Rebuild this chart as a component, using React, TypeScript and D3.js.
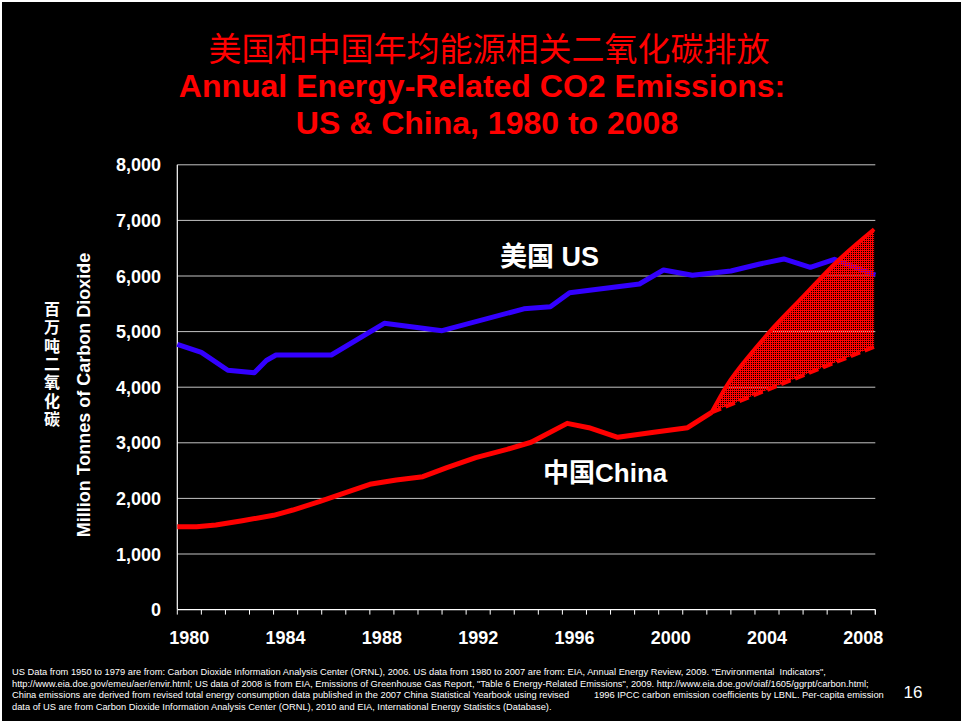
import React from "react";
import * as d3 from "d3";

// ---- Data ----
const usYears = [1980, 1981, 1982.1, 1983.2, 1983.7, 1984.1, 1986.4, 1988.6, 1991.0, 1994.4, 1995.5, 1996.3, 1999.2, 2000.2, 2001.4, 2003.0, 2004.2, 2005.2, 2006.3, 2007.3, 2009.0];
const usValues = [4771, 4627, 4304, 4261, 4480, 4579, 4579, 5149, 5016, 5410, 5448, 5700, 5856, 6108, 6012, 6090, 6216, 6306, 6157, 6300, 6018];

const chinaYears = [1980, 1980.8, 1981.6, 1982.7, 1984.0, 1984.8, 1985.9, 1986.9, 1988.0, 1989.1, 1990.2, 1991.2, 1992.4, 1993.7, 1994.7, 1996.2, 1997.1, 1998.3, 1999.8, 2001.2, 2002.2];
const chinaValues = [1490, 1491, 1522, 1599, 1696, 1791, 1941, 2092, 2254, 2331, 2390, 2552, 2732, 2883, 3010, 3350, 3272, 3099, 3189, 3272, 3549];

const chinaHighYears = [2002.2, 2002.8, 2003.9, 2004.8, 2006.0, 2007.4, 2008.95];
const chinaHighValues = [3549, 4009, 4638, 5088, 5628, 6257, 6840];

const chinaLowYears = [2002.2, 2008.95];
const chinaLowValues = [3549, 4728];

const yTicks = [0, 1000, 2000, 3000, 4000, 5000, 6000, 7000, 8000];
const xTickYears = d3.range(1980, 2010);
const xLabelYears = [1980, 1984, 1988, 1992, 1996, 2000, 2004, 2008];

const titleCn = "美国和中国年均能源相关二氧化碳排放";
const titleEn1 = "Annual Energy-Related CO2 Emissions:";
const titleEn2 = "US & China, 1980 to 2008";
const yTitleEn = "Million Tonnes of Carbon Dioxide";
const yTitleCn = "百万吨二氧化碳";
const usLabel = "美国 US";
const chinaLabel = "中国China";
const footerLines = [
  "US Data from 1950 to 1979 are from: Carbon Dioxide Information Analysis Center (ORNL), 2006. US data from 1980 to 2007 are from: EIA, Annual Energy Review, 2009. \"Environmental  Indicators\",",
  "http://www.eia.doe.gov/emeu/aer/envir.html; US data of 2008 is from EIA, Emissions of Greenhouse Gas Report, \"Table 6 Energy-Related Emissions\", 2009. http://www.eia.doe.gov/oiaf/1605/ggrpt/carbon.html;",
  "China emissions are derived from revised total energy consumption data published in the 2007 China Statistical Yearbook using revised",
  "data of US are from Carbon Dioxide Information Analysis Center (ORNL), 2010 and EIA, International Energy Statistics (Database).",
];
const footerLine3b = "1996 IPCC carbon emission coefficients by LBNL. Per-capita emission";
const pageNumber = "16";

const W = 961;
const H = 721;
const plot = { left: 177.3, right: 875.3, top: 164.8, bottom: 609.6 };

const ARIAL = "'Liberation Sans', Arial, sans-serif";
const CJK = "'Noto Sans CJK SC', 'Liberation Sans', sans-serif";

export default function App() {
  const x = d3.scaleLinear().domain([1980, 2009]).range([plot.left, plot.right]);
  const y = d3.scaleLinear().domain([0, 8000]).range([plot.bottom, plot.top]);

  const line = d3
    .line<[number, number]>()
    .x((d) => x(d[0]))
    .y((d) => y(d[1]));
  const smooth = d3
    .line<[number, number]>()
    .x((d) => x(d[0]))
    .y((d) => y(d[1]))
    .curve(d3.curveMonotoneX);

  const usPts = usYears.map((yr, i) => [yr, usValues[i]] as [number, number]);
  const cnPts = chinaYears.map((yr, i) => [yr, chinaValues[i]] as [number, number]);
  const hiPts = chinaHighYears.map((yr, i) => [yr, chinaHighValues[i]] as [number, number]);
  const loPts = chinaLowYears.map((yr, i) => [yr, chinaLowValues[i]] as [number, number]);

  const hiPath = smooth(hiPts) || "";
  const loRev = [...loPts].reverse();
  const fillPath =
    hiPath + loRev.map((p) => `L${x(p[0])},${y(p[1])}`).join("") + "Z";

  return (
    <svg
      width={W}
      height={H}
      style={{ position: "fixed", left: 0, top: 0, display: "block" }}
    >
      <defs>
        <pattern id="hatch" width="2" height="2" patternUnits="userSpaceOnUse">
          <path d="M0 0h2v2h-2z M1 1h1v1h-1z" fill="#ff0000" fillRule="evenodd" />
        </pattern>
      </defs>
      <rect x={0} y={0} width={W} height={H} fill="#ffffff" />
      <rect x={2} y={2} width={W} height={H} fill="#000000" />

      {/* Title */}
      <text x={489} y={61} textAnchor="middle" fill="#ff0000" fontFamily={CJK} fontSize={33}>
        {titleCn}
      </text>
      <text x={482} y={97} textAnchor="middle" fill="#ff0000" fontFamily={ARIAL} fontWeight="bold" fontSize={32}>
        {titleEn1}
      </text>
      <text x={487} y={134} textAnchor="middle" fill="#ff0000" fontFamily={ARIAL} fontWeight="bold" fontSize={32}>
        {titleEn2}
      </text>

      {/* Gridlines */}
      {yTicks.filter((t) => t > 0).map((t) => (
        <line key={t} x1={plot.left} x2={plot.right} y1={y(t)} y2={y(t)} stroke="#c4c4c4" strokeWidth={1} />
      ))}

      {/* Axes */}
      <line x1={plot.left} x2={plot.left} y1={plot.top} y2={plot.bottom} stroke="#ffffff" strokeWidth={1.2} />
      <line x1={plot.left} x2={plot.right} y1={plot.bottom} y2={plot.bottom} stroke="#ffffff" strokeWidth={1.2} />
      {xTickYears.map((yr) => (
        <line key={yr} x1={x(yr)} x2={x(yr)} y1={plot.bottom} y2={plot.bottom + 5} stroke="#ffffff" strokeWidth={1} />
      ))}
      <line x1={plot.right} x2={plot.right} y1={plot.bottom} y2={plot.bottom + 5} stroke="#ffffff" strokeWidth={1} />

      {/* Y tick labels */}
      {yTicks.map((t) => (
        <text key={t} x={161} y={y(t) + 6.5} textAnchor="end" fill="#ffffff" fontFamily={ARIAL} fontWeight="bold" fontSize={18}>
          {d3.format(",")(t)}
        </text>
      ))}

      {/* X labels */}
      {xLabelYears.map((yr) => (
        <text key={yr} x={x(yr + 0.5)} y={644} textAnchor="middle" fill="#ffffff" fontFamily={ARIAL} fontWeight="bold" fontSize={18}>
          {yr}
        </text>
      ))}

      {/* Y axis titles */}
      <text
        transform={`translate(90,395) rotate(-90)`}
        textAnchor="middle"
        fill="#ffffff"
        fontFamily={ARIAL}
        fontWeight="bold"
        fontSize={18}
      >
        {yTitleEn}
      </text>
      <text
        x={52}
        y={301}
        fill="#ffffff"
        fontFamily={CJK}
        fontWeight="bold"
        fontSize={16}
        letterSpacing={2.3}
        style={{ writingMode: "vertical-rl" } as React.CSSProperties}
      >
        {yTitleCn}
      </text>

      {/* Series */}
      <path d={line(usPts) || ""} fill="none" stroke="#3300ff" strokeWidth={5} strokeLinejoin="round" />
      <path d={line(cnPts) || ""} fill="none" stroke="#ff0000" strokeWidth={5} strokeLinejoin="round" />
      <path d={fillPath} fill="url(#hatch)" stroke="none" />
      <path d={hiPath} fill="none" stroke="#ff0000" strokeWidth={4} />
      <path d={line(loPts) || ""} fill="none" stroke="#ff0000" strokeWidth={4} strokeDasharray="10 5" />

      {/* Series labels */}
      <text x={500} y={266} fill="#ffffff" fontFamily={`'Liberation Sans', 'Noto Sans CJK SC', sans-serif`} fontWeight="bold" fontSize={27}>
        {usLabel}
      </text>
      <text x={543} y={482} fill="#ffffff" fontFamily={`'Liberation Sans', 'Noto Sans CJK SC', sans-serif`} fontWeight="bold" fontSize={26}>
        {chinaLabel}
      </text>

      {/* Footer */}
      {footerLines.map((t, i) => (
        <text key={i} x={12} y={675 + i * 11.6} fill="#ffffff" fontFamily={ARIAL} fontSize={9.3} xmlSpace="preserve">
          {t}
        </text>
      ))}
      <text x={594} y={675 + 2 * 11.6} fill="#ffffff" fontFamily={ARIAL} fontSize={9.3}>
        {footerLine3b}
      </text>
      <text x={913} y={698} textAnchor="middle" fill="#ffffff" fontFamily={ARIAL} fontSize={17}>
        {pageNumber}
      </text>
    </svg>
  );
}
